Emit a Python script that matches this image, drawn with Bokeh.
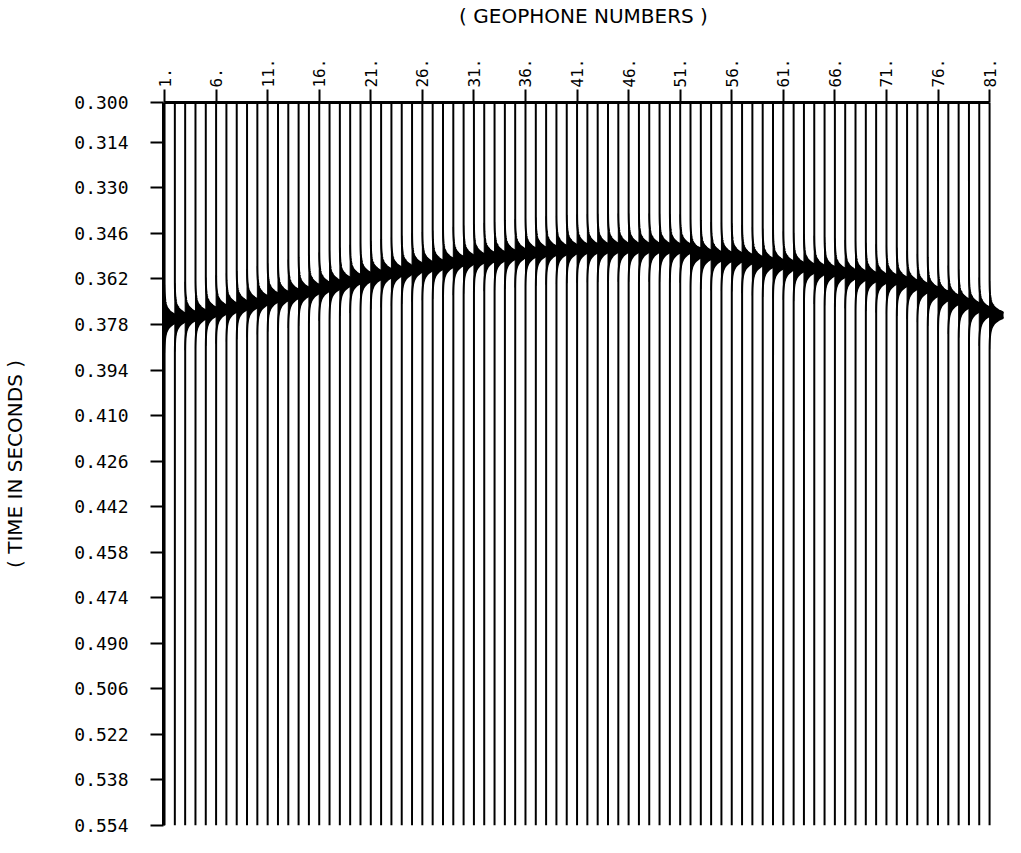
import math
import numpy as np
from bokeh.plotting import figure
from bokeh.models import Range1d, FixedTicker
from bokeh.embed import file_html
from bokeh.resources import INLINE

# ---------------- data ----------------
geophones = list(range(1, 82))
arrival_times = [
    0.3760, 0.3755, 0.3750, 0.3745, 0.3735, 0.3727, 0.3720, 0.3712, 0.3705, 0.3695,
    0.3685, 0.3680, 0.3672, 0.3665, 0.3655, 0.3647, 0.3640, 0.3630, 0.3620, 0.3613,
    0.3606, 0.3600, 0.3594, 0.3588, 0.3580, 0.3575, 0.3570, 0.3563, 0.3557, 0.3552,
    0.3547, 0.3543, 0.3540, 0.3535, 0.3530, 0.3527, 0.3524, 0.3520, 0.3518, 0.3515,
    0.3513, 0.3512, 0.3511, 0.3510, 0.3510, 0.3510, 0.3510, 0.3510, 0.3511, 0.3512,
    0.3513, 0.3530, 0.3535, 0.3540, 0.3542, 0.3544, 0.3550, 0.3558, 0.3563, 0.3568,
    0.3573, 0.3578, 0.3583, 0.3588, 0.3593, 0.3598, 0.3603, 0.3608, 0.3613, 0.3618,
    0.3622, 0.3630, 0.3640, 0.3652, 0.3665, 0.3680, 0.3693, 0.3706, 0.3720, 0.3735,
    0.3747,
]
x_ticks = [1, 6, 11, 16, 21, 26, 31, 36, 41, 46, 51, 56, 61, 66, 71, 76, 81]
x_tick_labels = ["1.", "6.", "11.", "16.", "21.", "26.", "31.", "36.", "41.",
                 "46.", "51.", "56.", "61.", "66.", "71.", "76.", "81."]
y_ticks = [0.300, 0.314, 0.330, 0.346, 0.362, 0.378, 0.394, 0.410, 0.426,
           0.442, 0.458, 0.474, 0.490, 0.506, 0.522, 0.538, 0.554]
y_tick_labels = ["0.300", "0.314", "0.330", "0.346", "0.362", "0.378", "0.394",
                 "0.410", "0.426", "0.442", "0.458", "0.474", "0.490", "0.506",
                 "0.522", "0.538", "0.554"]
t_start, t_end = 0.300, 0.554

# ---------------- wavelet style ----------------
AMP = 2.2        # peak deflection in trace spacings
HALF = 0.0019    # decay constant of the spike (s)
SPAN = 0.012

line_xs, line_ys, fill_xs, fill_ys = [], [], [], []
for g, ta in zip(geophones, arrival_times):
    tf = np.linspace(ta - SPAN, ta + SPAN, 241)
    xf = g + AMP * np.exp(-np.abs(tf - ta) / HALF)
    line_xs.append([g] + list(xf) + [g])
    line_ys.append([t_start] + list(tf) + [t_end])
    fill_xs.append([g] + list(xf) + [g])
    fill_ys.append([tf[0]] + list(tf) + [tf[-1]])

p = figure(width=1005, height=837,
           x_range=Range1d(0.9, 82.35), y_range=Range1d(t_end, t_start),
           x_axis_location="above", output_backend="svg", toolbar_location=None,
           min_border_left=158, min_border_top=93, min_border_right=2,
           min_border_bottom=12)
p.outline_line_color = None
p.grid.visible = False
p.background_fill_color = "white"

p.patches(fill_xs, fill_ys, fill_color="black", line_color="black", line_width=1)
p.multi_line(line_xs, line_ys, line_color="black", line_width=2)

ax = p.xaxis[0]
ax.ticker = FixedTicker(ticks=x_ticks)
ax.major_label_overrides = dict(zip(x_ticks, x_tick_labels))
ax.bounds = (1, 81)
ax.major_tick_out = 13
ax.major_tick_in = 0
ax.minor_tick_out = 0
ax.minor_tick_in = 0
ax.major_label_orientation = math.pi / 2
ax.major_label_standoff = 2
ax.major_label_text_font = "DejaVu Sans Mono"
ax.major_label_text_font_size = "16px"
ax.major_label_text_color = "black"
ax.axis_line_width = 3
ax.axis_line_color = "black"
ax.major_tick_line_width = 2
ax.major_tick_line_color = "black"
ax.axis_label = "( GEOPHONE NUMBERS )"
ax.axis_label_standoff = 28
ax.axis_label_text_font = "DejaVu Sans"
ax.axis_label_text_font_style = "normal"
ax.axis_label_text_font_size = "20px"
ax.axis_label_text_color = "black"

ay = p.yaxis[0]
ay.ticker = FixedTicker(ticks=y_ticks)
ay.major_label_overrides = dict(zip(y_ticks, y_tick_labels))
ay.major_tick_out = 13
ay.major_tick_in = 0
ay.minor_tick_out = 0
ay.minor_tick_in = 0
ay.major_label_standoff = 22
ay.major_label_text_font = "DejaVu Sans Mono"
ay.major_label_text_font_size = "18px"
ay.major_label_text_color = "black"
ay.axis_line_width = 3
ay.axis_line_color = "black"
ay.major_tick_line_width = 2
ay.major_tick_line_color = "black"
ay.axis_label = "( TIME IN SECONDS )"
ay.axis_label_standoff = 44
ay.axis_label_text_font = "DejaVu Sans"
ay.axis_label_text_font_style = "normal"
ay.axis_label_text_font_size = "20px"
ay.axis_label_text_color = "black"

open("out.html", "w").write(file_html(p, INLINE))
